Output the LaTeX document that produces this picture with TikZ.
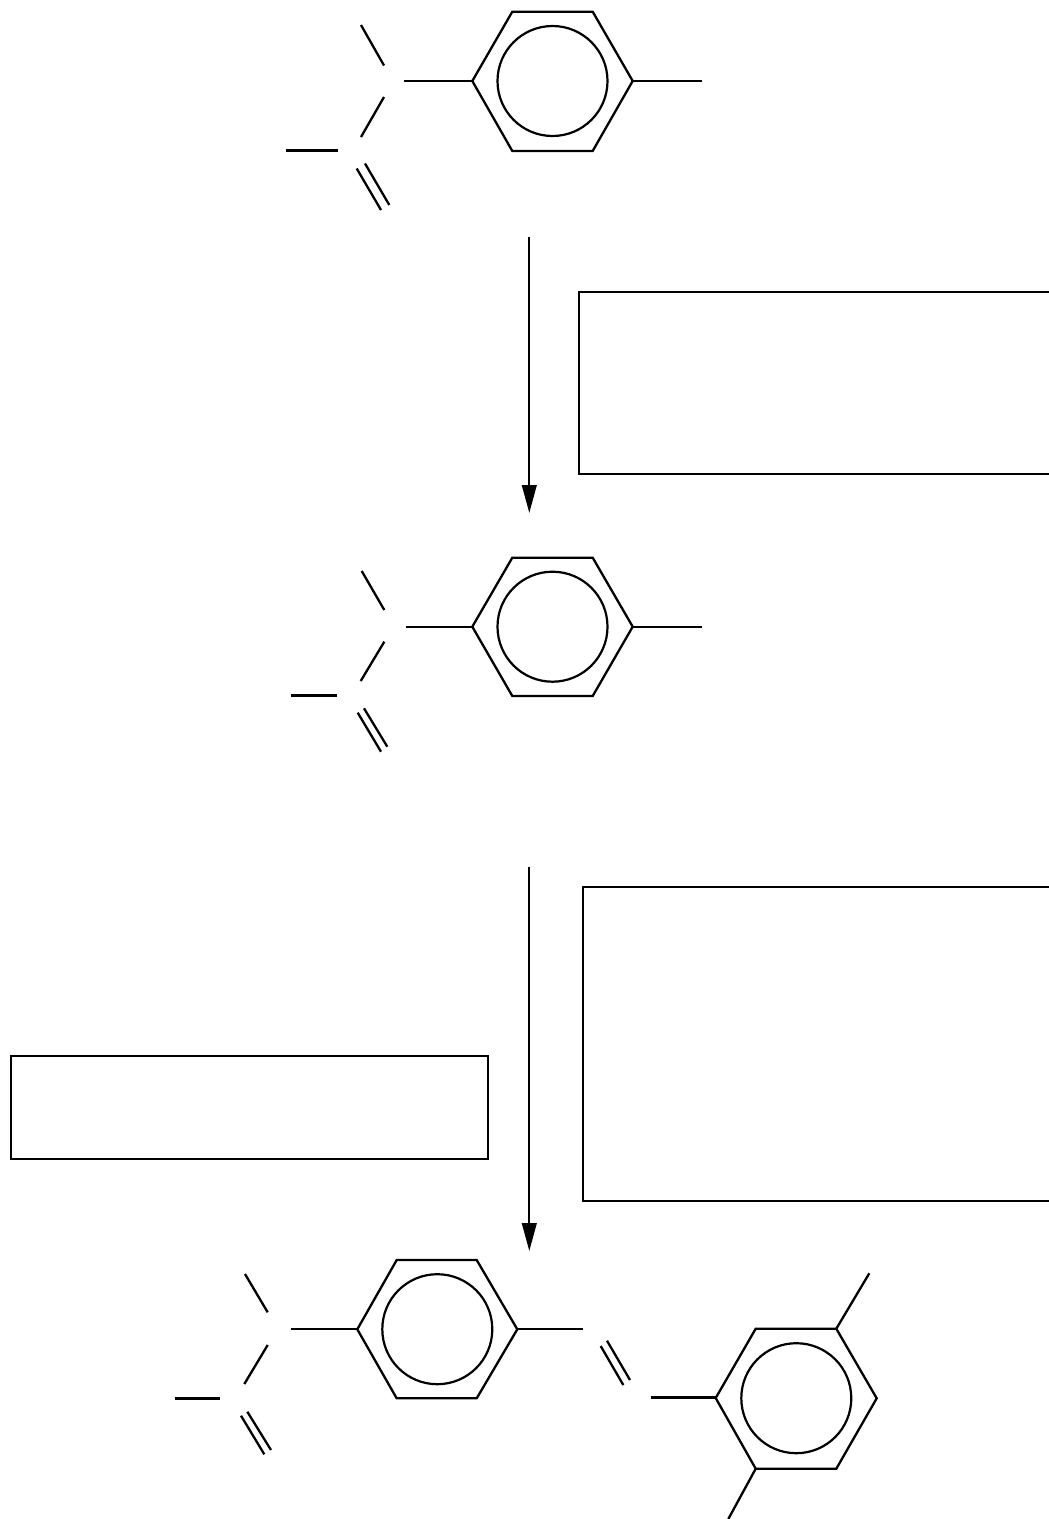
\documentclass[tikz,border=0pt]{standalone}
\usetikzlibrary{arrows.meta}
\begin{document}
\begin{tikzpicture}[x=1pt,y=-1pt,
  bond/.style={line width=2.3pt, line cap=butt, line join=miter},
  ringline/.style={line width=2.3pt, line join=miter},
  aromatic/.style={line width=2.2pt},
  framebox/.style={line width=1.8pt},
  reaction/.style={line width=2.3pt, -{Triangle[length=28pt,width=14.6pt]}}]
\useasboundingbox (0,0) rectangle (1049,1519);
\fill[white] (0,0) rectangle (1049,1519);

% ---------- molecule 1 ----------
\begin{scope}
\draw[ringline] (512.3,11.7) -- (592.7,11.7) -- (632.7,81) -- (592.7,151) -- (512.3,151) -- (472.3,81) -- cycle;
\draw[aromatic] (552.5,81) circle (55);
\draw[bond] (632.7,81) -- (701.7,81);
\draw[bond] (472.3,81) -- (404.3,81);
\draw[bond] (361,25) -- (384,65.5);
\draw[bond] (384,97) -- (361,137);
\draw[bond] (286,150.5) -- (338,150.5);
\draw[bond] (356.7,168.5) -- (381,210);
\draw[bond] (365,163.5) -- (389.3,205);
\end{scope}

% ---------- arrow 1 and box 1 ----------
\coordinate (a1s) at (529.3,237.3);
\coordinate (a1e) at (529.3,513);
\draw[reaction] (a1s) -- (a1e);
\draw[framebox] (1060,292) -- (579,292) -- (579,474) -- (1060,474);

% ---------- molecule 2 ----------
\begin{scope}
\draw[ringline] (512.3,557.7) -- (592.7,557.7) -- (632.7,626.7) -- (592.7,696) -- (512.3,696) -- (472.3,626.7) -- cycle;
\draw[aromatic] (552.5,626.7) circle (55);
\draw[bond] (632.7,626.7) -- (701.7,626.7);
\draw[bond] (472.3,626.7) -- (406,626.7);
\draw[bond] (361.7,571) -- (384.3,610);
\draw[bond] (384.3,641.7) -- (360.7,681);
\draw[bond] (291,695.5) -- (336.7,695.5);
\draw[bond] (357.7,712.7) -- (381,751.7);
\draw[bond] (364,708.3) -- (387.3,746.7);
\end{scope}

% ---------- arrow 2 and boxes 2, 3 ----------
\coordinate (a2s) at (529.3,866.7);
\coordinate (a2e) at (529.3,1251);
\draw[reaction] (a2s) -- (a2e);
\draw[framebox] (1060,886.7) -- (583,886.7) -- (583,1201) -- (1060,1201);
\draw[framebox] (11,1055.7) rectangle (488.3,1158.7);

% ---------- molecule 3 ----------
\begin{scope}
\draw[ringline] (396.7,1260) -- (476.7,1260) -- (517.3,1329.3) -- (476.7,1398.3) -- (396.7,1398.3) -- (357.3,1329.3) -- cycle;
\draw[aromatic] (437.3,1329.2) circle (55);
\draw[bond] (517.3,1329.3) -- (583.3,1329.3);
\draw[bond] (357.3,1329.3) -- (290.7,1329.3);
\draw[bond] (245,1274) -- (267.7,1312.3);
\draw[bond] (267.7,1345) -- (244.3,1384);
\draw[bond] (174.7,1398.5) -- (220.3,1398.5);
\draw[bond] (241,1415.7) -- (264.3,1454.3);
\draw[bond] (247.3,1411.7) -- (271,1450);
% double bond to second ring
\draw[bond] (600.7,1346) -- (623.3,1385);
\draw[bond] (607,1340.7) -- (630,1380);
\draw[bond] (651,1397.5) -- (715.7,1397.5);
% second ring
\draw[ringline] (755.7,1328.7) -- (836.3,1328.7) -- (876.7,1398.3) -- (836.3,1468.7) -- (755.7,1468.7) -- (715.7,1398) -- cycle;
\draw[aromatic] (796.3,1398.2) circle (55);
\draw[bond] (836.3,1328.7) -- (869.3,1273.3);
\draw[bond] (755.7,1468.7) -- (728.3,1519);
\end{scope}
\end{tikzpicture}
\end{document}
